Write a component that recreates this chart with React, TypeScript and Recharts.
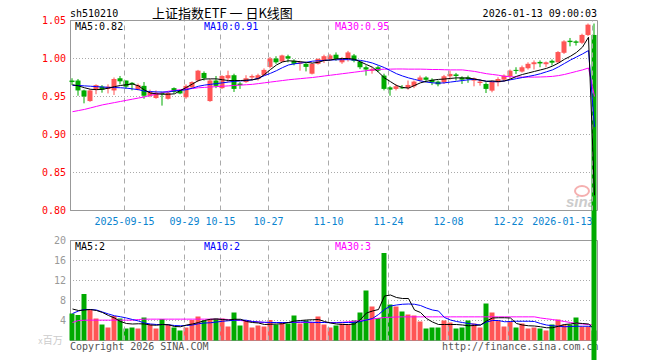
import React from "react";
import {
  ComposedChart,
  Bar,
  Line,
  XAxis,
  YAxis,
  CartesianGrid,
  ReferenceLine,
  ReferenceArea,
  Cell,
} from "recharts";

// ---- data (for sh510210) ----
const tickIdx = [9, 19, 25, 33, 43, 53, 63, 73, 87];
const tickLabels = ["2025-09-15", "09-29", "10-15", "10-27", "11-10", "11-24", "12-08", "12-22", "2026-01-13"];
const priceTicks = [0.8, 0.85, 0.9, 0.95, 1.0, 1.05];
const volTicks = [4, 8, 12, 16, 20];

const open = [
  0.971, 0.971, 0.958, 0.944, 0.959, 0.963, 0.96, 0.958, 0.974, 0.971,
  0.968, 0.959, 0.964, 0.951, 0.948, 0.955, 0.947, 0.961, 0.958, 0.949,
  0.962, 0.971, 0.981, 0.944, 0.971, 0.961, 0.974, 0.978, 0.967, 0.969,
  0.975, 0.973, 0.978, 0.989, 1.0, 0.996, 1.003, 0.997, 0.993, 0.993,
  0.98, 0.993, 0.997, 0.999, 1.005, 0.995, 0.999, 1.004, 0.996, 0.9885,
  0.9837, 0.9885, 0.9775, 0.962, 0.96, 0.962, 0.961, 0.9634, 0.971, 0.975,
  0.972, 0.9696, 0.9687, 0.9766, 0.979, 0.9748, 0.9753, 0.9709, 0.9678, 0.9665,
  0.9577, 0.9687, 0.9722, 0.9766, 0.985, 0.9828, 0.9872, 0.9925, 0.9955, 0.9925,
  0.997, 0.995, 1.0075, 1.0234, 1.0225, 1.0207, 1.031, 1.031,
];
const high = [
  0.974, 0.973, 0.959, 0.96, 0.966, 0.965, 0.966, 0.975, 0.977, 0.971,
  0.969, 0.967, 0.969, 0.959, 0.958, 0.956, 0.956, 0.962, 0.959, 0.966,
  0.97, 0.985, 0.983, 0.973, 0.977, 0.978, 0.984, 0.98, 0.969, 0.978,
  0.979, 0.98, 0.987, 1.002, 1.003, 1.005, 1.005, 0.999, 0.997, 0.995,
  0.994, 1.0, 1.005, 1.006, 1.008, 1.002, 1.01, 1.006, 0.997, 0.991,
  0.9885, 0.9907, 0.98, 0.9635, 0.9665, 0.965, 0.971, 0.971, 0.9775, 0.9766,
  0.974, 0.971, 0.9784, 0.984, 0.981, 0.9766, 0.9775, 0.975, 0.973, 0.9687,
  0.971, 0.9753, 0.979, 0.9855, 0.9885, 0.9907, 0.995, 0.9975, 0.9975, 0.996,
  0.9987, 1.0097, 1.024, 1.027, 1.024, 1.0326, 1.046, 1.046,
];
const low = [
  0.965, 0.951, 0.941, 0.943, 0.953, 0.955, 0.954, 0.952, 0.966, 0.96,
  0.958, 0.958, 0.947, 0.949, 0.947, 0.938, 0.946, 0.954, 0.953, 0.947,
  0.961, 0.969, 0.971, 0.943, 0.961, 0.96, 0.969, 0.956, 0.96, 0.968,
  0.971, 0.971, 0.977, 0.987, 0.993, 0.995, 0.995, 0.991, 0.984, 0.983,
  0.979, 0.992, 0.994, 0.997, 0.997, 0.993, 0.996, 0.995, 0.986, 0.9775,
  0.98, 0.982, 0.958, 0.951, 0.958, 0.96, 0.959, 0.961, 0.9696, 0.9687,
  0.965, 0.9634, 0.9665, 0.972, 0.971, 0.9665, 0.968, 0.9634, 0.9643, 0.9546,
  0.9555, 0.9634, 0.9696, 0.973, 0.9797, 0.9815, 0.9855, 0.9855, 0.9885, 0.9885,
  0.9907, 0.9943, 1.006, 1.016, 1.017, 1.019, 1.0295, 0,
];
const close = [
  0.969, 0.958, 0.95, 0.958, 0.965, 0.959, 0.963, 0.973, 0.97, 0.963,
  0.966, 0.965, 0.951, 0.956, 0.955, 0.953, 0.955, 0.956, 0.954, 0.964,
  0.969, 0.984, 0.974, 0.971, 0.964, 0.977, 0.978, 0.96, 0.965, 0.974,
  0.977, 0.978, 0.985, 1.0, 0.995, 1.004, 1.0, 0.993, 0.995, 0.989,
  0.993, 0.9995, 1.003, 1.004, 0.9995, 0.9995, 1.008, 0.997, 0.9885, 0.9855,
  0.986, 0.984, 0.96, 0.959, 0.9635, 0.9617, 0.9652, 0.9696, 0.975, 0.972,
  0.9687, 0.966, 0.9766, 0.9797, 0.977, 0.9722, 0.973, 0.974, 0.9696, 0.96,
  0.9696, 0.973, 0.9775, 0.984, 0.9842, 0.9885, 0.993, 0.995, 0.9935, 0.995,
  0.9945, 1.0085, 1.0225, 1.0216, 1.0207, 1.031, 1.0445, 0,
];
const volume = [
  5.4, 5.1, 9.3, 6.1, 4.4, 3.2, 2.6, 4.9, 4.4, 2.4,
  2.6, 2.4, 4.6, 3.2, 2.4, 4.3, 3.2, 2.6, 2.0, 2.6,
  4.1, 4.8, 4.0, 4.3, 4.4, 4.4, 2.8, 5.6, 3.0, 4.1,
  2.6, 3.0, 2.8, 4.1, 3.2, 3.6, 3.4, 5.0, 3.4, 4.0,
  3.6, 4.8, 3.2, 2.6, 3.0, 3.4, 3.2, 4.0, 5.6, 10.0,
  6.8, 4.5, 17.5, 7.2, 6.8, 5.8, 5.2, 5.0, 3.8, 2.4,
  2.6, 2.6, 4.0, 3.6, 2.4, 2.6, 4.0, 3.4, 2.6, 7.4,
  5.6, 4.0, 2.8, 3.8, 2.6, 3.4, 2.4, 2.6, 2.4, 2.0,
  3.2, 4.2, 3.2, 3.2, 4.6, 2.8, 2.8, 2.0,
];
const ma5 = [
  0.9655, 0.964, 0.9615, 0.9595, 0.959, 0.9595, 0.961, 0.963, 0.9645, 0.9655,
  0.9665, 0.964, 0.9585, 0.9545, 0.9535, 0.953, 0.953, 0.9535, 0.958, 0.962,
  0.9665, 0.971, 0.973, 0.9732, 0.9732, 0.972, 0.971, 0.971, 0.971, 0.9715,
  0.972, 0.9735, 0.979, 0.9855, 0.9915, 0.9955, 0.997, 0.9965, 0.9958, 0.995,
  0.994, 0.995, 0.9975, 0.998, 0.9995, 1.0, 1.0, 0.999, 0.9955, 0.992,
  0.9885, 0.982, 0.9745, 0.9695, 0.9645, 0.962, 0.961, 0.9645, 0.968, 0.97,
  0.9715, 0.9725, 0.973, 0.9738, 0.9745, 0.9745, 0.9742, 0.973, 0.9715, 0.97,
  0.9705, 0.9697, 0.9705, 0.973, 0.9765, 0.979, 0.981, 0.983, 0.985, 0.987,
  0.99, 0.994, 0.999, 1.003, 1.008, 1.015, 1.028, 0.82,
];
const ma10 = [
  0.9645, 0.9645, 0.964, 0.9635, 0.963, 0.9625, 0.962, 0.9618, 0.9615, 0.961,
  0.96, 0.959, 0.957, 0.9565, 0.956, 0.956, 0.956, 0.9575, 0.958, 0.959,
  0.961, 0.9635, 0.965, 0.966, 0.967, 0.968, 0.969, 0.97, 0.9705, 0.971,
  0.972, 0.974, 0.9775, 0.9805, 0.984, 0.988, 0.9915, 0.993, 0.994, 0.995,
  0.9965, 0.997, 0.9975, 0.998, 0.9983, 0.9985, 0.9985, 0.998, 0.9975, 0.996,
  0.994, 0.991, 0.988, 0.984, 0.98, 0.977, 0.9745, 0.9725, 0.9705, 0.969,
  0.968, 0.9675, 0.968, 0.969, 0.97, 0.971, 0.972, 0.9725, 0.9715, 0.97,
  0.9695, 0.9695, 0.9705, 0.972, 0.9735, 0.975, 0.9765, 0.978, 0.98, 0.9825,
  0.985, 0.989, 0.9935, 0.998, 1.002, 1.006, 1.0105, 0.91,
];
const ma30 = [
  0.93, 0.9315, 0.933, 0.935, 0.937, 0.939, 0.9405, 0.942, 0.9435, 0.945,
  0.9465, 0.948, 0.9495, 0.9515, 0.953, 0.955, 0.957, 0.958, 0.959, 0.96,
  0.9605, 0.9615, 0.962, 0.9625, 0.963, 0.9635, 0.964, 0.9645, 0.965, 0.9655,
  0.966, 0.967, 0.968, 0.969, 0.97, 0.971, 0.972, 0.9728, 0.9735, 0.9743,
  0.975, 0.976, 0.977, 0.978, 0.979, 0.98, 0.981, 0.982, 0.983, 0.984,
  0.985, 0.9855, 0.986, 0.986, 0.9862, 0.9862, 0.986, 0.986, 0.986, 0.9858,
  0.9855, 0.9855, 0.9852, 0.985, 0.985, 0.985, 0.984, 0.983, 0.9815, 0.98,
  0.979, 0.978, 0.9765, 0.976, 0.9757, 0.9755, 0.9755, 0.9755, 0.9757, 0.976,
  0.9765, 0.9775, 0.979, 0.981, 0.983, 0.985, 0.9875, 0.95,
];
const volMa5 = [
  6.3, 6.0, 6.1, 6.2, 6.0, 5.6, 5.0, 4.5, 3.8, 3.4,
  3.3, 3.35, 3.3, 3.1, 3.05, 3.2, 3.15, 2.8, 2.75, 3.1,
  3.3, 3.6, 4.0, 4.25, 4.3, 4.2, 4.1, 4.25, 4.25, 3.8,
  3.6, 3.5, 3.2, 3.25, 3.3, 3.35, 3.6, 3.9, 4.0, 4.1,
  4.15, 4.2, 3.8, 3.5, 3.3, 3.2, 3.2, 3.3, 4.2, 5.5,
  5.9, 6.2, 8.9, 9.1, 8.6, 8.4, 8.4, 6.1, 5.6, 4.4,
  3.7, 3.2, 3.2, 3.2, 3.2, 3.1, 2.95, 3.0, 3.1, 3.9,
  4.5, 4.55, 4.55, 4.5, 3.4, 3.1, 2.95, 2.9, 2.75, 2.55,
  2.55, 2.85, 3.2, 3.3, 3.5, 3.4, 3.3, 2.3,
];
const volMa10 = [
  5.4, 5.9, 6.2, 6.2, 6.1, 5.7, 5.3, 4.95, 4.75, 4.5,
  4.2, 3.9, 3.5, 3.3, 3.2, 3.2, 3.15, 3.0, 2.95, 3.0,
  3.1, 3.35, 3.5, 3.55, 3.7, 3.85, 3.95, 4.05, 4.1, 4.05,
  3.8, 3.7, 3.65, 3.6, 3.6, 3.6, 3.6, 3.65, 3.7, 3.7,
  3.65, 3.6, 3.6, 3.55, 3.55, 3.6, 3.6, 3.6, 3.8, 4.1,
  4.4, 5.2, 6.2, 6.9, 7.1, 7.25, 7.3, 7.25, 7.0, 6.5,
  6.1, 5.9, 4.6, 4.1, 3.8, 3.6, 3.4, 3.25, 3.1, 3.7,
  4.0, 4.0, 3.75, 3.8, 3.85, 3.85, 3.85, 3.8, 3.4, 3.1,
  2.95, 2.85, 2.75, 2.8, 2.85, 2.85, 2.85, 2.6,
];
const volMa30 = [
  3.6, 4.0, 4.05, 4.07, 4.07, 4.07, 4.07, 4.07, 4.07, 4.07,
  4.07, 4.2, 4.27, 4.27, 4.27, 4.27, 4.27, 4.27, 4.27, 4.27,
  4.27, 4.27, 4.27, 4.27, 4.27, 4.27, 4.2, 4.1, 4.0, 3.87,
  3.8, 3.7, 3.6, 3.6, 3.6, 3.6, 3.6, 3.6, 3.6, 3.6,
  3.6, 3.6, 3.6, 3.6, 3.6, 3.65, 3.75, 3.87, 4.0, 4.1,
  4.3, 4.45, 4.6, 4.65, 4.7, 4.73, 4.73, 4.73, 4.73, 4.73,
  4.73, 4.73, 4.73, 4.73, 4.73, 4.73, 4.73, 4.73, 4.73, 4.73,
  4.73, 4.73, 4.73, 4.73, 4.73, 4.73, 4.73, 4.73, 4.5, 4.35,
  4.2, 4.0, 3.8, 3.6, 3.4, 3.3, 3.2, 3.1,
];

const PRICE_MIN = 0.8;
const PRICE_MAX = 1.05;
const RED = "#ff5555";
const GREEN = "#00aa00";
const MONO = "'DejaVu Sans Mono', monospace";
// domain shifted so bars land on whole pixels
const X_MIN = -5 / 12;
const X_MAX = 88 - 5 / 12;
const gridX = tickIdx.map((k) => k - 1 / 3);

const rows = open.map((o, i) => ({
  i,
  open: o,
  high: high[i],
  low: low[i],
  close: close[i],
  range: [Math.max(low[i], PRICE_MIN), high[i]],
  vol: volume[i],
  ma5: ma5[i],
  ma10: ma10[i],
  ma30: ma30[i],
  vma5: volMa5[i],
  vma10: volMa10[i],
  vma30: volMa30[i],
}));

const Candle = (props: any) => {
  const { x, y, width, height, payload } = props;
  if (!payload || !height) return null;
  const [lo, hi] = payload.range;
  const ppu = height / (hi - lo);
  const py = (v: number) => y + (hi - v) * ppu;
  const color = payload.close >= payload.open ? RED : GREEN;
  const cx = x + width / 2;
  const top = py(Math.max(payload.open, payload.close));
  const bottom = py(Math.min(payload.open, payload.close));
  return (
    <g>
      <line x1={cx} x2={cx} y1={py(payload.high)} y2={py(payload.low)} stroke={color} />
      <rect x={x} y={top} width={width} height={Math.max(bottom - top, 1)} fill={color} />
    </g>
  );
};

const DateTick = (props: any) => {
  const { x, y, index } = props;
  const last = index === tickLabels.length - 1;
  return (
    <text x={x} y={y} dy="0.71em" textAnchor={last ? "end" : "middle"} fill="#0a84d0" fontSize={10} fontFamily={MONO}>
      {tickLabels[index]}
    </text>
  );
};

function VolumeChart() {
  return (
    <ComposedChart width={660} height={360} data={rows} margin={{ top: 240.5, right: 62, bottom: 19.5, left: 0 }}>
      <CartesianGrid vertical={false} stroke="#aaa" strokeDasharray="1 2" />
      <XAxis type="number" dataKey="i" domain={[X_MIN, X_MAX]} hide />
      <YAxis
        domain={[0, 20]}
        ticks={volTicks}
        interval={0}
        width={70}
        axisLine={false}
        tickLine={false}
        tickSize={0}
        tickMargin={4}
        tick={{ fill: "#999", fontSize: 10, fontFamily: MONO }}
      />
      {gridX.map((v) => (
        <ReferenceLine key={v} x={v} stroke="#aaa" strokeDasharray="5 4" />
      ))}
      <ReferenceArea x1={X_MIN + 1 / 12} x2={X_MAX - 1 / 12} y1={0} y2={20} fill="none" stroke="#999" />
      <Bar dataKey="vol" barSize={5} isAnimationActive={false}>
        {rows.map((r) => (
          <Cell key={r.i} fill={r.close >= r.open ? RED : GREEN} />
        ))}
      </Bar>
      <Line dataKey="vma30" stroke="#ff00ff" dot={false} activeDot={false} isAnimationActive={false} />
      <Line dataKey="vma10" stroke="#0000ff" dot={false} activeDot={false} isAnimationActive={false} />
      <Line dataKey="vma5" stroke="#000" dot={false} activeDot={false} isAnimationActive={false} />
    </ComposedChart>
  );
}

function PriceChart() {
  return (
    <ComposedChart width={660} height={360} data={rows} margin={{ top: 20.5, right: 62, bottom: 129.5, left: 0 }}>
      <CartesianGrid vertical={false} stroke="#aaa" strokeDasharray="1 2" />
      <XAxis
        type="number"
        dataKey="i"
        domain={[X_MIN, X_MAX]}
        ticks={gridX}
        interval={0}
        height={20}
        axisLine={false}
        tickLine={false}
        tickSize={0}
        tickMargin={7}
        tick={<DateTick />}
      />
      <YAxis
        domain={[PRICE_MIN, PRICE_MAX]}
        ticks={priceTicks}
        interval={0}
        width={70}
        axisLine={false}
        tickLine={false}
        tickSize={0}
        tickMargin={4}
        tickFormatter={(v: number) => v.toFixed(2)}
        tick={{ fill: "#ff0000", fontSize: 10, fontFamily: MONO }}
      />
      {gridX.map((v) => (
        <ReferenceLine key={v} x={v} stroke="#aaa" strokeDasharray="5 4" />
      ))}
      <ReferenceArea x1={X_MIN + 1 / 12} x2={X_MAX - 1 / 12} y1={PRICE_MIN} y2={PRICE_MAX} fill="none" stroke="#999" />
      <Bar dataKey="range" barSize={5} shape={<Candle />} isAnimationActive={false} />
      <Line dataKey="ma30" stroke="#ff00ff" dot={false} activeDot={false} isAnimationActive={false} />
      <Line dataKey="ma10" stroke="#0000ff" dot={false} activeDot={false} isAnimationActive={false} />
      <Line dataKey="ma5" stroke="#000" dot={false} activeDot={false} isAnimationActive={false} />
    </ComposedChart>
  );
}

const layer: React.CSSProperties = { position: "absolute", left: 0, top: 0 };

export default function App() {
  return (
    <div style={{ position: "absolute", left: 0, top: 0, width: 660, height: 360, background: "#fff", overflow: "hidden" }}>
      <style>{"html,body{margin:0;padding:0;overflow:hidden;background:#fff}"}</style>
      <div style={layer}>
        <VolumeChart />
      </div>
      <svg style={layer} width={660} height={360} fontFamily={MONO} fontSize={10}>
        <text x={70} y={17} fill="#000">sh510210</text>
        <text x={152} y={18} fontSize={13} fontFamily="'Noto Sans CJK SC', sans-serif" fill="#000">
          上证指数ETF 一 日K线图
        </text>
        <text x={597} y={17} textAnchor="end" fill="#000">2026-01-13 09:00:03</text>
        <text x={75} y={30} fill="#000">MA5:0.82</text>
        <text x={204} y={30} fill="#0000ff">MA10:0.91</text>
        <text x={335} y={30} fill="#ff00ff">MA30:0.95</text>
        <text x={75} y={250} fill="#000">MA5:2</text>
        <text x={204} y={250} fill="#0000ff">MA10:2</text>
        <text x={335} y={250} fill="#ff00ff">MA30:3</text>
        <text x={38} y={344} fill="#ccc">
          <tspan fontSize={8}>x</tspan>
          <tspan fontFamily="'Noto Sans CJK SC', sans-serif">百万</tspan>
        </text>
        <text x={70} y={350} fill="#555">Copyright 2026 SINA.COM</text>
        <text x={442} y={350} fill="#555">http://finance.sina.com.cn</text>
        <ellipse cx={582} cy={191} rx={7} ry={5} fill="none" stroke="#f5b0b0" strokeWidth={2} />
        <text x={566} y={207} fontSize={15} fontStyle="italic" fontWeight="bold" fill="#cccccc" fontFamily="'Liberation Sans', sans-serif">
          sina
        </text>
      </svg>
      <div style={layer}>
        <PriceChart />
      </div>
    </div>
  );
}
